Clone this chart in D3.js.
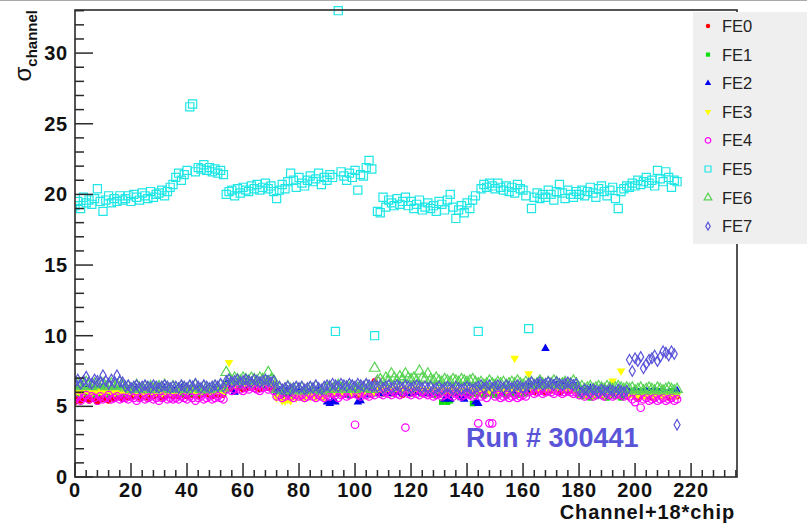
<!DOCTYPE html>
<html><head><meta charset="utf-8">
<script src="https://cdn.jsdelivr.net/npm/d3@7"></script>
<style>html,body{margin:0;padding:0;background:#fff;}svg{display:block;}</style>
</head><body>
<svg id="chart" width="807" height="524"></svg>
<script>
// ---------------- DATA ----------------
const seriesNames = ["FE0","FE1","FE2","FE3","FE4","FE5","FE6","FE7"];
const xTickLabels = ["0","20","40","60","80","100","120","140","160","180","200","220"];
const yTickLabels = ["0","5","10","15","20","25","30"];
const runLabel = "Run # 300441";

const fe0 = [
5.3,5.6,5.4,5.5,5.7,5.4,5.6,5.5,5.3,5.6,5.5,5.7,5.4,5.6,5.5,5.8,5.6,5.5,
5.7,5.6,5.8,5.7,5.9,5.6,5.8,5.7,5.6,5.8,5.7,5.9,5.8,5.6,5.7,5.8,5.9,5.7,
5.8,5.7,5.9,5.8,5.7,6.0,5.8,5.9,5.7,5.8,6.0,5.9,5.8,5.7,5.9,5.8,6.0,5.8,
6.3,6.4,6.2,6.3,6.5,6.3,6.2,6.4,6.3,6.5,6.4,6.3,6.2,6.4,6.5,6.3,6.4,6.2,
5.8,5.9,5.7,5.8,6.0,5.8,5.7,5.9,5.8,5.6,5.8,5.9,5.7,5.8,6.0,5.9,5.7,5.8,
5.9,6.0,5.8,5.9,6.1,5.9,5.8,6.0,5.9,6.1,6.0,5.8,5.9,6.0,6.1,5.9,6.0,6.8,
6.0,6.1,5.9,6.0,6.2,6.0,5.9,6.1,6.0,5.8,6.0,6.1,5.9,6.0,6.2,6.0,5.9,6.1,
6.0,5.9,6.1,6.0,5.8,6.0,6.1,5.9,6.0,6.2,6.0,5.9,6.1,6.0,5.8,6.0,6.1,5.9,
6.0,6.1,5.9,6.0,6.2,6.0,6.1,5.9,6.0,6.1,6.0,6.2,5.9,6.0,6.1,6.0,5.9,6.1,
6.1,6.2,6.0,6.1,6.3,6.1,6.0,6.2,6.1,6.3,6.2,6.0,6.1,6.2,6.0,6.1,6.3,6.1,
5.9,6.0,5.8,5.9,6.1,5.9,5.8,6.0,5.9,5.7,5.9,6.0,5.8,5.9,6.1,5.9,5.8,6.0,
5.8,5.9,5.7,5.6,5.8,5.9,5.7,5.8,5.6,5.9,5.8,5.7,5.9,5.8,5.6,5.8,5.9,5.7];

const fe1 = [
5.9,6.0,5.8,6.1,5.9,6.0,6.1,5.8,6.0,5.9,6.1,6.0,5.8,6.0,6.1,5.9,6.0,5.9,
6.0,5.9,6.1,6.0,5.8,6.0,6.1,5.9,6.0,6.1,5.9,6.0,6.2,5.9,6.0,6.1,5.9,6.0,
6.1,6.0,5.9,6.1,6.0,6.2,5.9,6.0,6.1,5.9,6.0,6.1,6.0,5.9,6.1,6.0,6.2,6.0,
6.5,6.6,6.4,6.5,6.7,6.5,6.4,6.6,6.5,6.4,6.6,6.5,6.7,6.5,6.4,6.6,6.5,6.6,
5.9,6.0,5.8,5.9,6.1,5.9,5.8,6.0,5.9,6.0,5.8,5.9,6.1,6.0,5.9,5.8,6.0,5.9,
6.0,5.9,6.1,6.0,5.9,6.1,6.0,5.8,6.0,6.1,5.9,6.0,6.1,5.9,6.0,6.1,6.0,5.9,
6.0,6.1,5.9,6.0,6.1,5.9,6.0,6.1,6.0,5.9,6.0,6.1,5.9,6.0,6.1,6.0,5.9,6.0,
5.9,6.0,5.8,5.9,6.0,5.3,5.4,5.3,5.4,5.9,6.0,5.8,5.9,6.0,5.9,5.8,5.2,5.9,
5.9,6.0,5.8,5.9,5.9,6.0,5.8,5.9,6.0,5.9,5.8,6.0,5.9,6.0,5.8,5.9,6.0,5.9,
6.3,6.4,6.2,6.3,6.5,6.3,6.2,6.4,6.3,6.2,6.4,6.3,6.5,6.3,6.2,6.4,6.3,6.2,
5.8,5.7,5.9,5.8,5.6,5.8,5.7,5.9,5.8,5.7,5.6,5.8,5.9,5.7,5.8,5.6,5.8,5.7,
6.0,6.1,5.9,6.0,6.1,6.0,5.9,6.1,6.0,6.0,5.9,6.1,6.0,5.9,6.0,6.1,6.0,5.9];

const fe2 = [
6.2,6.3,6.1,6.2,6.4,6.2,6.1,6.3,6.2,6.4,6.3,6.1,6.2,6.3,6.1,6.2,6.4,6.2,
6.1,6.2,6.0,6.1,6.3,6.1,6.0,6.2,6.1,6.2,6.0,6.1,6.2,6.1,6.3,6.1,6.0,6.2,
6.2,6.1,6.3,6.2,6.0,6.2,6.3,6.1,6.2,6.3,6.1,6.2,6.0,6.2,6.3,6.1,6.2,6.1,
6.6,6.7,6.5,6.0,6.7,6.6,6.5,6.7,6.6,6.8,6.6,6.5,6.7,6.6,6.5,6.7,6.6,6.5,
6.0,6.1,5.9,6.0,6.2,6.0,5.9,6.1,6.0,6.1,5.9,6.0,6.1,6.0,5.9,6.1,6.0,5.9,
5.3,5.2,5.4,5.3,5.9,6.0,5.8,5.9,6.0,5.8,5.9,5.3,5.4,6.0,5.9,5.8,6.0,5.9,
6.0,6.1,5.9,6.0,6.1,5.9,6.0,6.1,6.0,5.9,6.1,6.0,5.9,6.0,6.1,6.0,5.9,6.0,
6.0,5.9,6.1,6.0,5.9,6.0,5.5,5.6,5.5,6.0,5.9,6.1,5.6,5.5,6.0,5.9,6.0,5.3,
5.2,6.2,6.1,6.3,6.2,6.1,6.3,6.2,6.0,6.2,6.1,6.3,6.2,6.1,6.3,6.2,6.1,6.2,
6.4,6.5,6.3,6.4,6.6,6.4,9.1,6.5,6.4,6.6,6.5,6.3,6.4,6.5,6.3,6.4,6.6,6.4,
6.1,6.2,6.0,6.1,6.3,6.1,6.0,6.2,6.1,6.0,6.2,6.1,6.0,6.1,6.2,6.0,6.1,6.2,
6.0,5.9,6.1,6.0,5.8,6.0,6.1,5.9,6.0,6.1,5.9,6.0,6.1,5.9,6.0,5.8,6.0,6.1];

const fe3 = [
6.0,6.1,5.9,6.0,6.2,6.0,5.9,6.1,6.0,6.1,5.9,6.0,6.2,6.0,5.9,6.1,6.0,6.1,
6.0,5.9,6.1,6.0,5.9,6.1,6.0,5.8,6.0,6.1,5.9,6.0,6.1,5.9,6.0,6.1,6.0,5.9,
6.1,6.0,6.2,6.1,6.0,6.2,6.1,5.9,6.1,6.0,6.2,6.1,6.0,6.1,6.2,6.0,6.1,6.0,
6.5,8.1,6.6,6.5,6.7,6.6,6.5,6.7,6.6,6.5,6.7,6.6,6.5,6.6,6.7,6.5,6.6,6.5,
5.6,5.7,5.4,5.4,5.5,5.4,5.9,5.6,5.8,5.7,5.6,5.8,5.7,5.9,5.6,5.8,5.7,5.6,
6.0,6.1,5.9,6.0,6.1,5.9,6.0,6.1,6.0,5.9,6.1,6.0,5.9,6.0,6.1,6.0,5.9,6.0,
6.2,6.3,6.1,6.2,6.3,6.1,6.2,6.3,6.2,6.1,6.3,6.2,6.1,6.2,6.3,6.2,6.1,6.2,
6.1,6.2,6.0,6.1,6.2,6.0,6.1,6.2,6.1,6.0,6.2,6.1,6.0,6.1,6.2,6.1,6.0,6.1,
6.2,6.1,6.3,6.2,6.1,6.3,6.2,6.1,6.2,6.3,6.1,6.2,6.3,8.4,6.2,6.1,6.3,6.2,
7.3,6.3,6.4,6.2,6.3,6.4,6.2,6.3,6.4,6.2,6.3,6.4,6.3,6.2,6.4,6.3,6.2,6.3,
5.9,6.0,5.8,5.9,6.0,5.8,5.9,6.0,5.9,5.8,6.0,5.9,6.8,5.8,5.9,7.5,6.0,5.8,
5.8,5.9,5.7,5.8,5.9,5.7,5.8,5.9,5.8,5.7,5.9,5.8,5.7,5.8,5.9,5.8,5.7,5.8];

const fe4 = [
5.5,5.7,5.4,5.6,5.8,5.5,5.7,5.6,5.4,5.7,5.5,5.6,5.8,5.5,5.6,5.7,5.5,5.6,
5.6,5.5,5.7,5.6,5.4,5.6,5.7,5.5,5.6,5.7,5.5,5.6,5.4,5.6,5.7,5.5,5.6,5.5,
5.6,5.5,5.7,5.6,5.5,5.7,5.6,5.4,5.6,5.7,5.5,5.6,5.7,5.5,5.6,5.7,5.6,5.5,
6.2,6.3,6.1,6.2,6.4,6.2,6.1,6.3,6.2,6.4,6.3,6.2,6.1,6.3,6.4,6.2,6.3,6.1,
5.7,5.8,5.6,5.7,5.9,5.7,5.6,5.8,5.7,5.8,5.6,5.7,5.9,5.7,5.6,5.8,5.7,5.6,
5.8,5.7,5.9,5.8,5.6,5.8,5.9,5.7,5.8,5.9,3.7,5.8,5.7,5.9,5.8,5.7,5.9,5.8,
6.8,5.9,5.8,6.0,5.9,5.8,6.0,5.9,5.8,6.0,3.5,5.9,5.8,6.0,5.9,5.8,6.0,5.9,
5.8,5.9,5.7,5.8,5.9,5.7,5.8,5.9,5.8,5.7,5.9,5.8,5.7,5.8,5.9,5.8,5.7,5.8,
3.8,5.7,5.8,5.6,3.8,3.8,5.7,5.8,5.6,5.7,5.8,5.6,5.7,5.8,5.6,5.7,5.8,5.7,
6.0,6.1,5.9,6.0,6.1,5.9,6.0,6.1,6.0,5.9,6.1,6.0,5.9,6.0,6.1,6.0,5.9,6.0,
5.8,5.9,5.7,5.8,5.9,5.7,5.8,5.9,5.8,5.7,5.9,5.8,5.7,5.8,5.9,5.8,5.7,5.8,
5.7,5.5,5.3,5.6,4.9,5.5,5.6,5.4,5.5,5.6,5.4,5.5,5.6,5.4,5.5,5.6,5.4,5.5];

const fe5 = [
19.2,19.5,19.0,19.8,19.4,19.6,19.3,19.7,20.4,19.5,18.8,19.6,19.9,19.4,19.7,19.5,19.9,19.6,
19.7,19.9,19.5,20.0,19.8,19.6,20.1,19.9,19.7,20.2,19.8,20.0,20.1,20.3,19.9,20.2,20.5,20.7,
21.2,21.5,21.0,21.4,21.7,26.2,26.4,21.6,21.9,21.8,22.1,21.7,21.9,21.6,21.8,21.5,21.7,21.4,
20.0,20.2,20.3,19.9,20.4,20.1,20.5,20.3,20.2,20.6,20.4,20.7,20.3,20.5,20.8,20.4,20.6,20.2,
19.7,20.3,20.7,20.4,20.9,21.5,21.0,20.5,21.2,20.8,20.6,21.0,21.3,20.9,21.1,21.5,20.7,21.2,
21.0,21.4,21.2,10.3,33.0,21.6,21.3,21.0,21.5,21.2,21.7,20.3,21.4,21.3,21.9,22.4,21.8,10.0,
18.8,18.7,19.8,19.1,19.6,19.4,19.2,19.7,19.3,19.5,19.8,19.2,19.5,19.0,19.3,19.6,18.9,19.1,
19.4,19.0,19.2,18.8,19.5,19.3,18.9,19.6,20.0,19.1,18.3,18.9,19.2,18.7,19.4,19.0,19.6,19.9,
10.3,20.4,20.7,20.5,20.8,20.6,20.4,20.8,20.5,20.3,20.6,20.2,20.5,20.1,20.7,20.4,20.3,19.9,
10.5,19.0,19.8,20.1,19.7,20.0,19.8,20.3,20.0,19.6,20.2,20.7,20.1,19.7,20.3,20.0,19.8,20.2,
20.0,20.3,19.9,20.2,20.5,20.1,19.8,20.4,20.6,20.2,19.9,20.3,20.5,19.7,19.0,20.2,20.4,20.6,
20.5,20.8,20.6,21.0,20.7,20.9,21.2,20.8,21.0,20.6,21.7,21.1,20.9,21.6,21.2,20.5,21.0,20.9];

const fe6 = [
6.5,6.6,6.4,6.5,6.7,6.5,6.4,6.6,6.5,6.7,6.6,6.4,6.5,6.6,6.4,6.5,6.7,6.5,
6.3,6.4,6.2,6.3,6.5,6.3,6.2,6.4,6.3,6.4,6.2,6.3,6.4,6.3,6.5,6.3,6.2,6.4,
6.3,6.2,6.4,6.3,6.2,6.4,6.3,6.5,6.3,6.2,6.4,6.3,6.2,6.3,6.4,6.3,6.5,6.3,
7.4,6.9,6.8,7.0,6.9,6.8,7.0,6.9,6.8,7.0,6.9,6.8,7.0,6.9,6.8,7.4,6.9,6.8,
6.2,6.3,6.1,6.2,6.4,6.2,6.1,6.3,6.2,6.3,6.1,6.2,6.3,6.2,6.4,6.2,6.1,6.3,
6.3,6.4,6.2,6.3,6.5,6.3,6.2,6.4,6.3,6.4,6.2,6.3,6.4,6.3,6.5,6.3,6.2,7.7,
6.8,6.9,6.7,7.0,6.8,7.3,7.0,6.8,7.1,6.9,7.3,7.0,6.9,7.0,6.8,7.5,7.0,6.9,
7.3,6.9,6.8,7.0,6.8,6.7,6.9,6.8,6.7,6.9,6.8,6.7,6.9,6.8,6.7,6.8,6.9,6.7,
6.6,6.7,6.5,6.6,6.8,6.6,6.5,6.7,6.6,6.7,6.5,6.6,6.7,6.6,6.8,6.6,6.5,6.7,
6.6,6.7,6.5,6.6,6.8,6.6,6.5,6.7,6.6,6.8,6.7,6.5,6.6,6.7,6.5,6.6,6.8,6.6,
6.3,6.4,6.2,6.3,6.4,6.2,6.3,6.4,6.3,6.2,6.4,6.3,6.2,6.3,6.4,6.3,6.2,6.3,
6.2,6.3,6.1,6.2,6.3,6.1,6.2,6.3,6.2,6.1,6.3,6.2,6.1,6.2,6.3,6.2,6.1,6.2];

const fe7 = [
6.7,6.9,6.6,6.8,7.1,6.7,6.6,6.9,6.8,6.7,7.2,6.8,6.6,6.9,6.7,7.2,6.8,6.7,
6.4,6.5,6.3,6.4,6.5,6.3,6.4,6.5,6.4,6.3,6.5,6.4,6.3,6.4,6.5,6.4,6.3,6.4,
6.4,6.3,6.5,6.4,6.3,6.5,6.4,6.6,6.4,6.3,6.5,6.4,6.3,6.4,6.5,6.4,6.6,6.4,
6.8,6.9,6.7,6.8,6.9,6.7,6.8,6.9,6.8,6.7,6.9,6.8,6.7,6.8,6.9,6.8,6.7,6.8,
6.3,6.4,6.2,6.3,6.4,6.2,6.3,6.4,6.3,6.4,6.2,6.3,6.4,6.3,6.5,6.3,6.2,6.4,
6.5,6.4,6.6,6.5,6.4,6.6,6.5,6.4,6.6,6.5,6.4,6.6,6.5,6.4,6.6,6.5,6.4,6.5,
6.4,6.5,6.3,6.4,6.5,6.3,6.4,6.5,6.4,6.3,6.5,6.4,6.3,6.4,6.5,6.4,6.3,6.4,
6.3,6.4,6.2,6.3,6.4,6.2,6.3,6.4,6.3,6.2,6.4,6.3,6.2,6.3,6.4,6.3,6.2,6.3,
6.4,6.5,6.3,6.4,6.5,6.3,6.4,6.5,6.4,6.3,6.5,6.4,6.3,6.4,6.5,6.4,6.3,6.4,
6.6,6.7,6.5,6.6,6.7,6.5,6.6,6.7,6.6,6.5,6.7,6.6,6.5,6.6,6.7,6.6,6.5,6.6,
6.1,6.0,6.2,6.1,6.0,6.2,6.1,6.0,6.2,6.1,6.0,6.2,6.1,6.0,6.2,6.1,6.0,6.1,
8.3,7.5,8.4,8.2,8.5,7.7,8.0,8.3,8.4,8.6,8.2,8.5,8.9,8.8,8.6,8.9,8.7,3.7];

const seriesValues = [fe0, fe1, fe2, fe3, fe4, fe5, fe6, fe7];

// ---------------- STYLE ----------------
const colors = ["#ff0000","#10dd10","#0000ee","#ffff00","#ff00ff","#20e6e6","#59d454","#5954d8"];
const symbolTypes = [d3.symbolCircle, d3.symbolSquare, d3.symbolTriangle, d3.symbolTriangle,
                     d3.symbolCircle, d3.symbolSquare, d3.symbolTriangle, d3.symbolDiamond];
const filled = [true,true,true,true,false,false,false,false];
const symSizes = [28, 32, 32, 32, 44, 66, 48, 32];
const rotations = [0,0,0,180,0,0,0,0];

const svg = d3.select("#chart");
const W = 807, H = 524;
const plot = {left: 75, right: 737, top: 10, bottom: 477};

const x = d3.scaleLinear().domain([0, 236.4]).range([plot.left, plot.right]);
const y = d3.scaleLinear().domain([0, 33.05]).range([plot.bottom, plot.top]);

const axisColor = "#2a2a2a";
const tickFont = "'Liberation Sans', Arial, Helvetica, sans-serif";

// top light border of canvas
svg.append("line").attr("x1",0).attr("x2",W).attr("y1",0.5).attr("y2",0.5)
  .attr("stroke","#aaaaaa").attr("stroke-width",1);

// markers
svg.append("defs").append("clipPath").attr("id","clipP")
  .append("rect").attr("x",plot.left).attr("y",plot.top-6).attr("width",plot.right-plot.left).attr("height",plot.bottom-plot.top+6);

const marks = svg.append("g").attr("clip-path","url(#clipP)");
seriesValues.forEach((vals, s) => {
  const sym = d3.symbol().type(symbolTypes[s]).size(symSizes[s]);
  marks.append("g").selectAll("path").data(vals).join("path")
    .attr("d", sym)
    .attr("transform", (d,i) => `translate(${x(i)},${y(d)}) rotate(${rotations[s]})`)
    .attr("fill", filled[s] ? colors[s] : "none")
    .attr("stroke", filled[s] ? "none" : colors[s])
    .attr("stroke-width", 1.2);
});

// frame
svg.append("rect").attr("x",plot.left).attr("y",plot.top)
  .attr("width",plot.right-plot.left).attr("height",plot.bottom-plot.top)
  .attr("fill","none").attr("stroke",axisColor).attr("stroke-width",1.6);

// x axis ticks (inward)
const xMajor = d3.range(0, 221, 20);
const xMinor = d3.range(0, 237, 4).filter(v => v % 20 !== 0);
const xAx = svg.append("g");
xAx.selectAll("line.maj").data(xMajor).join("line")
  .attr("x1", d=>x(d)).attr("x2", d=>x(d)).attr("y1", plot.bottom).attr("y2", plot.bottom-14)
  .attr("stroke", axisColor).attr("stroke-width",1.5);
xAx.selectAll("line.min").data(xMinor).join("line")
  .attr("x1", d=>x(d)).attr("x2", d=>x(d)).attr("y1", plot.bottom).attr("y2", plot.bottom-7)
  .attr("stroke", axisColor).attr("stroke-width",1.5);
xAx.selectAll("text").data(xTickLabels).join("text")
  .attr("x", d=>x(+d)).attr("y", 497)
  .attr("text-anchor","middle").attr("font-family",tickFont).attr("font-weight","bold")
  .attr("font-size",20).attr("letter-spacing","0.8px").attr("fill","#111").text(d=>d);

// y axis ticks
const yMajor = d3.range(0, 31, 5);
const yMinor = d3.range(0, 34, 1).filter(v => v % 5 !== 0);
const yAx = svg.append("g");
yAx.selectAll("line.maj").data(yMajor).join("line")
  .attr("x1", plot.left).attr("x2", plot.left+18).attr("y1", d=>y(d)).attr("y2", d=>y(d))
  .attr("stroke", axisColor).attr("stroke-width",1.5);
yAx.selectAll("line.min").data(yMinor).join("line")
  .attr("x1", plot.left).attr("x2", plot.left+9).attr("y1", d=>y(d)).attr("y2", d=>y(d))
  .attr("stroke", axisColor).attr("stroke-width",1.5);
yAx.selectAll("text").data(yTickLabels).join("text")
  .attr("x", 68).attr("y", d=>y(+d)+7)
  .attr("text-anchor","end").attr("font-family",tickFont).attr("font-weight","bold")
  .attr("font-size",20).attr("letter-spacing","0.8px").attr("fill","#111").text(d=>d);

// axis titles
svg.append("text").attr("x", 735).attr("y", 519).attr("text-anchor","end")
  .attr("font-family",tickFont).attr("font-weight","bold").attr("font-size",20)
  .attr("letter-spacing","0.9px").attr("fill","#111").text("Channel+18*chip");

const yt = svg.append("text").attr("transform","translate(31,10) rotate(-90)")
  .attr("text-anchor","end").attr("font-family",tickFont).attr("font-weight","bold").attr("fill","#111");
yt.append("tspan").attr("font-size",24).attr("font-weight","normal").text("σ");
yt.append("tspan").attr("font-size",15).attr("dy",6).text("channel");

// Run label
svg.append("text").attr("x", 466).attr("y", 447)
  .attr("font-family",tickFont).attr("font-weight","bold").attr("font-size",27)
  .attr("fill","#5954d8").text(runLabel);

// legend
const leg = svg.append("g");
leg.append("rect").attr("x",693).attr("y",12).attr("width",120).attr("height",232)
  .attr("fill","#efefef").attr("stroke","none");
seriesNames.forEach((name, s) => {
  const cy = 26 + s*28.6;
  const sym = d3.symbol().type(symbolTypes[s]).size(symSizes[s]*0.55);
  leg.append("path").attr("d", sym)
    .attr("transform", `translate(708,${cy}) rotate(${rotations[s]})`)
    .attr("fill", filled[s] ? colors[s] : "none")
    .attr("stroke", filled[s] ? "none" : colors[s]).attr("stroke-width",1.2);
  leg.append("text").attr("x",722).attr("y",cy+6)
    .attr("font-family",tickFont).attr("font-size",16.5).attr("fill","#222").text(name);
});
</script>
</body></html>
